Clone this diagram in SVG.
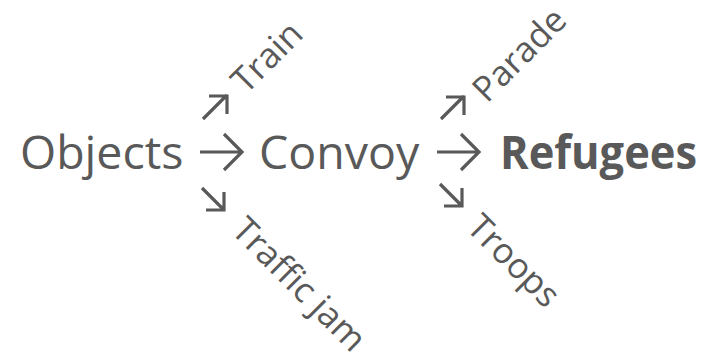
<svg xmlns="http://www.w3.org/2000/svg" width="710" height="361" viewBox="0 0 710 361">
<style>
text{font-family:"Open Sans","Liberation Sans",sans-serif;fill:#595959}
.big{font-size:46.5px}
.bold{font-weight:bold}
.small{font-size:35px}
.arr{fill:none;stroke:#595959;stroke-width:3.2;stroke-linecap:butt;stroke-linejoin:miter}
</style>
<rect width="710" height="361" fill="#fff"/>
<g id="objects"><text class="big" x="20" y="169">Objects</text></g>
<g id="convoy"><text class="big" x="259" y="169">Convoy</text></g>
<g id="refugees"><text class="big bold" x="500" y="169" textLength="197" lengthAdjust="spacingAndGlyphs">Refugees</text></g>
<g id="train"><text class="small" transform="translate(246,95) rotate(-45)">Train</text></g>
<g id="trafficjam"><text class="small" transform="translate(230,232) rotate(45)">Traffic jam</text></g>
<g id="parade"><text class="small" transform="translate(487,104) rotate(-45)">Parade</text></g>
<g id="troops"><text class="small" transform="translate(465,229) rotate(45)">Troops</text></g>
<g id="connectors">
<path class="arr" d="M200,152 H242 M224,134 L242,152 L224,170"/>
<path class="arr" d="M437,152 H479 M461,134 L479,152 L461,170"/>
<path class="arr" d="M203,119 L227,95 M209,96 H227 V114"/>
<path class="arr" d="M202,188 L224,210 M206,210 H224 V192"/>
<path class="arr" d="M441,119 L464,96 M446,97 H464 V115"/>
<path class="arr" d="M440,184 L462,206 M444,206 H462 V188"/>
</g>
</svg>
